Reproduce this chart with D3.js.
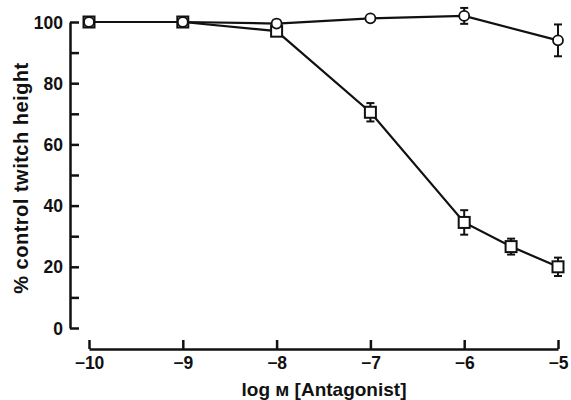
<!DOCTYPE html>
<html>
<head>
<meta charset="utf-8">
<script src="https://cdn.jsdelivr.net/npm/d3@7"></script>
<style>
  body { margin: 0; background: #fff; }
  svg { display: block; }
  text { font-family: "Liberation Sans", Arial, sans-serif; font-weight: bold; fill: #111; }
</style>
</head>
<body>
<script>
// log molar concentration of antagonist
const squareConc = [-10, -9, -8, -7, -6, -5.5, -5];
const squareMean = [100, 100, 97, 70.5, 34.5, 26.6, 20];
const squareErr = [0, 0, 1, 3, 4, 2.6, 3];

const circleConc = [-10, -9, -8, -7, -6, -5];
const circleMean = [100, 100, 99.5, 101.2, 102, 94];
const circleErr = [0, 0, 0, 0, 2.6, 5.2];

const xTicks = [-10, -9, -8, -7, -6, -5];
const yTicks = [0, 10, 20, 30, 40, 50, 60, 70, 80, 90, 100];

const w = 571, h = 400;

const svg = d3.select("body").append("svg")
  .attr("width", w)
  .attr("height", h);

const x = d3.scaleLinear().domain([-10, -5]).range([89, 558]);
const y = d3.scaleLinear().domain([0, 100]).range([328, 22]);

// y axis (ticks point inward, labels every 20)
const yAxis = d3.axisLeft(y)
  .tickValues(yTicks)
  .tickSizeInner(-9)
  .tickSizeOuter(0)
  .tickPadding(7)
  .tickFormat(d => d % 20 === 0 ? d : "");

const gy = svg.append("g")
  .attr("transform", "translate(70,0)")
  .call(yAxis);

// x axis, detached below the plot
const xAxis = d3.axisBottom(x)
  .tickValues(xTicks)
  .tickSizeInner(-9)
  .tickSizeOuter(0)
  .tickPadding(6)
  .tickFormat(d3.format("d"));

const gx = svg.append("g")
  .attr("transform", "translate(0,349)")
  .call(xAxis);

[gx, gy].forEach(g => {
  g.select(".domain").attr("stroke", "#111").attr("stroke-width", 2.5);
  g.selectAll(".tick line").attr("stroke", "#111").attr("stroke-width", 2.5);
  g.selectAll(".tick text")
    .attr("font-size", 17.5)
    .attr("font-family", "Liberation Sans, Arial, sans-serif")
    .attr("font-weight", "bold")
    .attr("fill", "#111");
});
gx.selectAll(".tick text").attr("dy", "0.8em");
gy.selectAll(".tick text").attr("dy", "0.35em");

// axis titles
svg.append("text")
  .attr("x", 324)
  .attr("y", 396)
  .attr("text-anchor", "middle")
  .attr("font-size", 19)
  .text("log м [Antagonist]");

svg.append("text")
  .attr("transform", "translate(28,178) rotate(-90)")
  .attr("text-anchor", "middle")
  .attr("font-size", 20)
  .attr("letter-spacing", 0.5)
  .text("% control twitch height");

const squares = squareConc.map((c, i) => ({ c, v: squareMean[i], e: squareErr[i] }));
const circles = circleConc.map((c, i) => ({ c, v: circleMean[i], e: circleErr[i] }));

const line = d3.line().x(d => x(d.c)).y(d => y(d.v));

[squares, circles].forEach(data => {
  svg.append("path")
    .datum(data)
    .attr("d", line)
    .attr("fill", "none")
    .attr("stroke", "#111")
    .attr("stroke-width", 2.2);

  const eb = svg.append("g")
    .selectAll("g")
    .data(data.filter(d => d.e > 0))
    .enter()
    .append("g")
    .attr("stroke", "#111")
    .attr("stroke-width", 2);
  eb.append("line")
    .attr("x1", d => x(d.c)).attr("x2", d => x(d.c))
    .attr("y1", d => y(d.v + d.e)).attr("y2", d => y(d.v - d.e));
  eb.append("line")
    .attr("x1", d => x(d.c) - 4).attr("x2", d => x(d.c) + 4)
    .attr("y1", d => y(d.v + d.e)).attr("y2", d => y(d.v + d.e));
  eb.append("line")
    .attr("x1", d => x(d.c) - 4).attr("x2", d => x(d.c) + 4)
    .attr("y1", d => y(d.v - d.e)).attr("y2", d => y(d.v - d.e));
});

svg.selectAll("rect.sq")
  .data(squares)
  .enter()
  .append("rect")
  .attr("class", "sq")
  .attr("x", d => x(d.c) - 5.5)
  .attr("y", d => y(d.v) - 5.5)
  .attr("width", 11)
  .attr("height", 11)
  .attr("fill", "#fff")
  .attr("stroke", "#111")
  .attr("stroke-width", 2);

svg.selectAll("circle.ci")
  .data(circles)
  .enter()
  .append("circle")
  .attr("class", "ci")
  .attr("cx", d => x(d.c))
  .attr("cy", d => y(d.v))
  .attr("r", 5)
  .attr("fill", "#fff")
  .attr("stroke", "#111")
  .attr("stroke-width", 1.8);
</script>
</body>
</html>
